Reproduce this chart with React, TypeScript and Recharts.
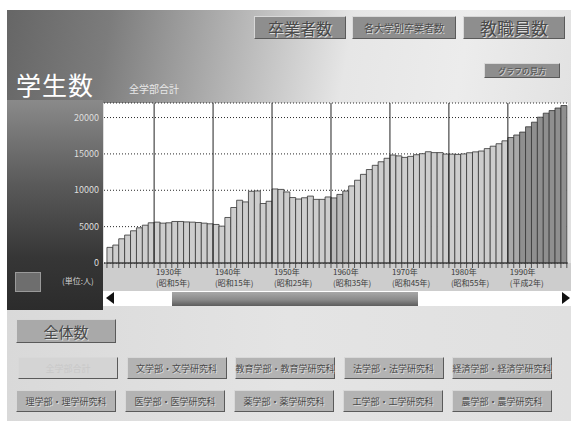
import React from "react";
import { Bar, BarChart, CartesianGrid, Cell, ReferenceLine, XAxis, YAxis } from "recharts";

const years = [
  1922, 1923, 1924, 1925, 1926, 1927, 1928, 1929,
  1930, 1931, 1932, 1933, 1934, 1935, 1936, 1937, 1938, 1939,
  1940, 1941, 1942, 1943, 1944, 1945, 1946, 1947, 1948, 1949,
  1950, 1951, 1952, 1953, 1954, 1955, 1956, 1957, 1958, 1959,
  1960, 1961, 1962, 1963, 1964, 1965, 1966, 1967, 1968, 1969,
  1970, 1971, 1972, 1973, 1974, 1975, 1976, 1977, 1978, 1979,
  1980, 1981, 1982, 1983, 1984, 1985, 1986, 1987, 1988, 1989,
  1990, 1991, 1992, 1993, 1994, 1995, 1996, 1997, 1998, 1999,
];

const students = [
  2150, 2470, 3330, 3840, 4430, 4840, 5200, 5530,
  5620, 5480, 5530, 5710, 5710, 5650, 5620, 5570, 5480, 5390,
  5300, 5070, 6260, 7630, 8630, 8400, 9860, 9910, 8180, 8490,
  10180, 10120, 9770, 9000, 8800, 8970, 9200, 8750, 8750, 9080,
  8950, 9430, 9900, 10600, 11380, 12190, 12850, 13430, 13920, 14400,
  14850, 14730, 14520, 14660, 14890, 15030, 15300, 15180, 15180, 14980,
  14970, 14930, 15000, 15160, 15280, 15400, 15730, 16060, 16400, 16800,
  17250, 17600, 18000, 18730, 19360, 20050, 20600, 20960, 21310, 21650,
];

const decadeYears = [1930, 1940, 1950, 1960, 1970, 1980, 1990];
const yearLabels = ["1930年", "1940年", "1950年", "1960年", "1970年", "1980年", "1990年"];
const eraLabels = ["(昭和5年)", "(昭和15年)", "(昭和25年)", "(昭和35年)", "(昭和45年)", "(昭和55年)", "(平成2年)"];
const yTicks = [0, 5000, 10000, 15000, 20000];

const deptRow1 = ["全学部合計", "文学部・文学研究科", "教育学部・教育学研究科", "法学部・法学研究科", "経済学部・経済学研究科"];
const deptRow2 = ["理学部・理学研究科", "医学部・医学研究科", "薬学部・薬学研究科", "工学部・工学研究科", "農学部・農学研究科"];

const FONT = '"Noto Sans CJK JP", "Noto Sans", sans-serif';

const rows = years.map((y, i) => ({ year: y, mid: y + 0.5, count: students[i] }));
const axisTicks = [...years, 2000];

function barColor(year: number) {
  if (year >= 1992) return "#8f8f8f";
  if (year >= 1990) return "#a9a9a9";
  if (year >= 1960 && year <= 1962) return "#b9b9b9";
  return "#cdcdcd";
}

const YearTick = (props: any) => {
  const { x, y, payload } = props;
  const i = decadeYears.indexOf(payload.value);
  return (
    <g>
      <line x1={x} x2={x} y1={y} y2={y + 5} stroke="#333" strokeWidth={0.8} />
      {i >= 0 && (
        <text x={x + 2} y={y + 12} fontSize={8} fill="#3c3c3c" fontFamily={FONT}>
          <tspan x={x + 2}>{yearLabels[i]}</tspan>
          <tspan x={x + 2} dy={11}>{eraLabels[i]}</tspan>
        </text>
      )}
    </g>
  );
};

const btn = (extra: React.CSSProperties): React.CSSProperties => ({
  position: "absolute",
  display: "flex",
  alignItems: "center",
  justifyContent: "center",
  boxSizing: "border-box",
  borderTop: "1px solid #d8d8d8",
  borderLeft: "1px solid #d8d8d8",
  borderRight: "1px solid #5a5a5a",
  borderBottom: "1px solid #5a5a5a",
  fontFamily: FONT,
  color: "#4a4a4a",
  textShadow: "1px 1px 0 #dcdcdc",
  whiteSpace: "nowrap",
  ...extra,
});

export default function App() {
  return (
    <div style={{ position: "fixed", left: 0, top: 0, width: 571, height: 421, background: "#fff", overflow: "hidden" }}>
      {/* header band */}
      <div style={{ position: "absolute", left: 7, top: 10, width: 564, height: 93,
        background: "linear-gradient(100deg, #666 0%, #7c7c7c 18%, #b4b4b4 40%, #e6e6e6 60%, #ececec 80%, #e2e2e2 100%)" }} />
      {/* lower area */}
      <div style={{ position: "absolute", left: 7, top: 103, width: 564, height: 318,
        background: "linear-gradient(90deg, #d9d9d9 0%, #e4e4e4 50%, #e0e0e0 100%)" }} />
      {/* left dark panel */}
      <div style={{ position: "absolute", left: 7, top: 100, width: 96, height: 210,
        background: "linear-gradient(180deg, #8a8a8a 0%, #5a5a5a 40%, #363636 75%, #2c2c2c 100%)" }} />
      {/* x axis band */}
      <div style={{ position: "absolute", left: 103, top: 263, width: 468, height: 28, background: "#cdcdcd" }} />

      <div style={{ position: "absolute", left: 16, top: 66, color: "#fff", fontFamily: FONT, fontSize: 25, letterSpacing: 1 }}>学生数</div>
      <div style={{ position: "absolute", left: 129, top: 81, color: "#e8e8e8", fontFamily: FONT, fontSize: 10 }}>全学部合計</div>

      <div style={btn({ left: 254, top: 16, width: 92, height: 23, background: "#8e8e8e", fontSize: 16 })}>卒業者数</div>
      <div style={btn({ left: 352, top: 16, width: 104, height: 23, background: "#8e8e8e", fontSize: 10 })}>各大学別卒業者数</div>
      <div style={btn({ left: 463, top: 16, width: 102, height: 23, background: "#8e8e8e", fontSize: 17 })}>教職員数</div>
      <div style={btn({ left: 484, top: 63, width: 76, height: 15, background: "#8e8e8e", fontSize: 8 })}>グラフの見方</div>

      {/* unit + icon */}
      <div style={{ position: "absolute", left: 15, top: 272, width: 24, height: 18, background: "#6e6e6e", border: "1px solid #9a9a9a" }} />
      <div style={{ position: "absolute", left: 62, top: 275, color: "#d0d0d0", fontFamily: FONT, fontSize: 8 }}>(単位:人)</div>

      <div style={{ position: "absolute", left: 0, top: 95 }}>
        <BarChart width={571} height={200} data={rows} margin={{ top: 8, right: 3, bottom: 0, left: 0 }}
          barCategoryGap={0} barGap={0}>
          <CartesianGrid vertical={false} stroke="#2a2a2a" strokeDasharray="1 2" fill="#fff" />
          <XAxis type="number" dataKey="mid" domain={[1921.5, 2000.2]} allowDataOverflow ticks={axisTicks}
            interval={0} tick={<YearTick />} tickLine={false} tickSize={0} tickMargin={0} height={32}
            axisLine={{ stroke: "#333" }} />
          <YAxis domain={[0, 22000]} ticks={yTicks} width={104} axisLine={false} tickLine={false}
            tickSize={0} tickMargin={5} tick={{ fill: "#dedede", fontSize: 9, fontFamily: FONT }} />
          <Bar dataKey="count" isAnimationActive={false} stroke="#333" strokeWidth={0.8}>
            {rows.map((r) => (
              <Cell key={r.year} fill={barColor(r.year)} />
            ))}
          </Bar>
          {decadeYears.map((d) => (
            <ReferenceLine key={d} x={d} stroke="#222" strokeWidth={1} />
          ))}
        </BarChart>
      </div>

      {/* scrollbar */}
      <div style={{ position: "absolute", left: 103, top: 291, width: 468, height: 15, background: "#fff" }} />
      <div style={{ position: "absolute", left: 106, top: 292, width: 0, height: 0, borderTop: "6px solid transparent",
        borderBottom: "6px solid transparent", borderRight: "8px solid #111" }} />
      <div style={{ position: "absolute", left: 172, top: 292, width: 246, height: 14,
        background: "linear-gradient(180deg, #a8a8a8 0%, #8a8a8a 55%, #5c5c5c 100%)" }} />
      <div style={{ position: "absolute", left: 562, top: 292, width: 0, height: 0, borderTop: "6px solid transparent",
        borderBottom: "6px solid transparent", borderLeft: "8px solid #111" }} />

      <div style={btn({ left: 16, top: 319, width: 100, height: 24, background: "#a9a9a9", fontSize: 15 })}>全体数</div>

      {deptRow1.map((t, i) => (
        <div key={t} style={btn({ left: 18 + i * 108.5, top: 357, width: 100, height: 22,
          background: i === 0 ? "#d4d4d4" : "#b3b3b3", fontSize: 9, color: i === 0 ? "#c8c8c8" : "#4a4a4a",
          textShadow: i === 0 ? "none" : "1px 1px 0 #dcdcdc" })}>{t}</div>
      ))}
      {deptRow2.map((t, i) => (
        <div key={t} style={btn({ left: 16 + i * 109, top: 390, width: 100, height: 22, background: "#b3b3b3", fontSize: 9 })}>{t}</div>
      ))}
    </div>
  );
}
